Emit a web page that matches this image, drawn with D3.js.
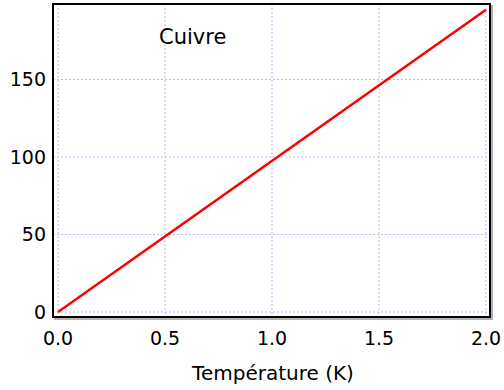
<!DOCTYPE html>
<html><head><meta charset="utf-8">
<script src="https://cdn.jsdelivr.net/npm/d3@7"></script>
<style>body{margin:0;background:#fff}svg{display:block}text{font-family:"DejaVu Sans",Verdana,sans-serif;fill:#000}</style>
</head><body>
<svg id="c" width="504" height="390"></svg>
<script>
const temps = [0.0, 2.0];
const values = [0, 195];
const xTicks = [0.0, 0.5, 1.0, 1.5, 2.0];
const yTicks = [0, 50, 100, 150];
const label = "Cuivre";
const xTitle = "Température (K)";

const svg = d3.select("#c");
const L = 53, R = 490, T = 4, B = 317;
const x = d3.scaleLinear().domain([-0.0234, 2.0187]).range([L, R]);
const y = d3.scaleLinear().domain([-3.2, 198.7]).range([B, T]);

// shadow
svg.append("rect").attr("x", L + 2).attr("y", T + 2).attr("width", R - L).attr("height", B - T)
  .attr("fill", "none").attr("stroke", "#999").attr("stroke-width", 1.5);
svg.append("rect").attr("x", L).attr("y", T).attr("width", R - L).attr("height", B - T)
  .attr("fill", "#fff");

const g = svg.append("g");
g.selectAll(".gx").data(xTicks).enter().append("line")
  .attr("x1", d => x(d)).attr("x2", d => x(d)).attr("y1", T).attr("y2", B)
  .attr("stroke", "#b8b8f4").attr("stroke-width", 1).attr("stroke-dasharray", "2,2");
g.selectAll(".gy").data(yTicks).enter().append("line")
  .attr("y1", d => y(d)).attr("y2", d => y(d)).attr("x1", L).attr("x2", R)
  .attr("stroke", "#b8b8f4").attr("stroke-width", 1).attr("stroke-dasharray", "2,2");

const line = d3.line().x((d, i) => x(temps[i])).y(d => y(d));
svg.append("path").datum(values).attr("d", line)
  .attr("fill", "none").attr("stroke", "#ff0000").attr("stroke-width", 2.5);

svg.append("rect").attr("x", L).attr("y", T).attr("width", R - L).attr("height", B - T)
  .attr("fill", "none").attr("stroke", "#000").attr("stroke-width", 2);

svg.selectAll(".xl").data(xTicks).enter().append("text")
  .attr("x", d => x(d)).attr("y", 345).attr("text-anchor", "middle")
  .attr("font-size", 19).text(d => d.toFixed(1));
svg.selectAll(".yl").data(yTicks).enter().append("text")
  .attr("x", 46).attr("y", d => y(d) + 6.5).attr("text-anchor", "end")
  .attr("font-size", 19).text(d => d);

svg.append("text").attr("x", 159).attr("y", 44).attr("font-size", 21).text(label);
svg.append("text").attr("x", 273).attr("y", 380).attr("text-anchor", "middle")
  .attr("font-size", 20).text(xTitle);
</script>
</body></html>
